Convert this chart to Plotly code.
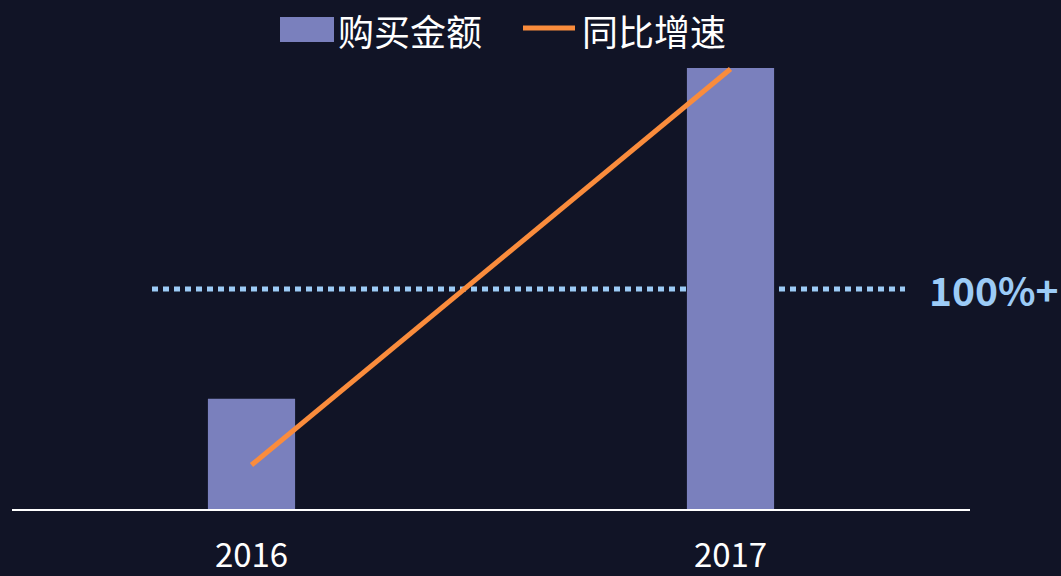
import plotly.graph_objects as go

# ---- data ----
years = ["2016", "2017"]
purchase_amount = [1.0, 4.0]        # relative purchase amount
yoy_growth = [20, 200]              # year-over-year growth, %
threshold_value = 100               # 100%+ reference line
threshold_label = "100%+"
legend_names = ["购买金额", "同比增速"]

# ---- styles ----
BG = "#111426"
BAR = "#7a80bd"
ORANGE = "#fa8c3c"
LIGHTBLUE = "#9ccbf6"
FONT = "Noto Sans CJK SC"

W, H = 1061, 576
L, R, T, B = 12, 91, 60, 67
pw, ph = W - L - R, H - T - B


def px(xp):
    return (xp - L) / pw


def py(yp):
    return (H - B - yp) / ph


fig = go.Figure()
fig.add_trace(go.Bar(x=years, y=purchase_amount, name=legend_names[0],
                     marker=dict(color=BAR, line=dict(width=0)), width=0.182,
                     showlegend=False))
fig.add_trace(go.Scatter(x=years, y=yoy_growth, name=legend_names[1], yaxis="y2",
                         mode="lines", line=dict(color=ORANGE, width=5),
                         showlegend=False))

# reference line
fig.add_shape(type="line", xref="paper", yref="y2", x0=px(152), x1=px(905),
              y0=threshold_value, y1=threshold_value,
              line=dict(color=LIGHTBLUE, width=5, dash="6px,5px"), layer="below")
fig.add_annotation(xref="paper", yref="y2", x=px(927), y=threshold_value,
                   text="<b>" + threshold_label + "</b>", showarrow=False,
                   xanchor="left", yanchor="middle",
                   font=dict(family=FONT, size=39, color=LIGHTBLUE))

# custom legend
fig.add_shape(type="rect", xref="paper", yref="paper", x0=px(280), x1=px(334),
              y0=py(42), y1=py(17), fillcolor=BAR, line=dict(width=0))
fig.add_annotation(xref="paper", yref="paper", x=px(336), y=py(30),
                   text=legend_names[0], showarrow=False, xanchor="left", yanchor="middle",
                   font=dict(family=FONT, size=36, color="white"))
fig.add_shape(type="line", xref="paper", yref="paper", x0=px(523), x1=px(575),
              y0=py(28), y1=py(28), line=dict(color=ORANGE, width=5))
fig.add_annotation(xref="paper", yref="paper", x=px(580), y=py(30),
                   text=legend_names[1], showarrow=False, xanchor="left", yanchor="middle",
                   font=dict(family=FONT, size=36, color="white"))

fig.update_layout(
    width=W, height=H,
    margin=dict(l=L, r=R, t=T, b=B, autoexpand=False),
    paper_bgcolor=BG, plot_bgcolor=BG,
    showlegend=False,
    xaxis=dict(type="category", range=[-0.5, 1.5], showline=True, linecolor="white",
               linewidth=2, showgrid=False, zeroline=False, ticks="",
               automargin=False, ticklabelstandoff=16,
               tickfont=dict(family=FONT, size=33, color="white")),
    yaxis=dict(range=[0, ph / 110.25], visible=False, showgrid=False, zeroline=False,
               automargin=False),
    yaxis2=dict(range=[0, ph / 2.2], overlaying="y", visible=False, showgrid=False,
                zeroline=False, automargin=False),
)

fig.write_html("out.html", config={"displayModeBar": False},
               post_script="document.body.style.margin='0';"
                           "document.body.style.background='" + BG + "';"
                           "document.body.style.overflow='hidden';")
